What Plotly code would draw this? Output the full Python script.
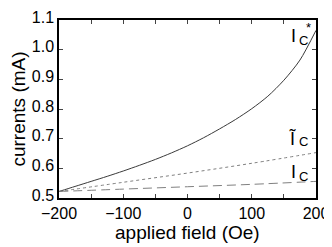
import plotly.graph_objects as go

field = [-200, -175, -150, -125, -100, -75, -50, -25, 0, 25, 50, 75, 100, 125, 150, 175, 200]
ic_star = [0.522, 0.539, 0.556, 0.573, 0.591, 0.610, 0.630, 0.652, 0.676, 0.703,
           0.733, 0.765, 0.801, 0.843, 0.897, 0.965, 1.065]
field2 = [-200, -100, 0, 100, 200]
ic_tilde = [0.522, 0.553, 0.584, 0.617, 0.653]
ic = [0.522, 0.530, 0.538, 0.546, 0.556]

fig = go.Figure()
fig.add_trace(go.Scatter(x=field, y=ic_star, mode="lines",
                         line=dict(color="#3a3a3a", width=1, shape="spline", smoothing=0.8)))
fig.add_trace(go.Scatter(x=field2, y=ic_tilde, mode="lines",
                         line=dict(color="#808080", width=1, dash="3px,3px", shape="spline")))
fig.add_trace(go.Scatter(x=field2, y=ic, mode="lines",
                         line=dict(color="#808080", width=1, dash="9px,5px", shape="spline")))

font = "Liberation Sans, Arial, sans-serif"
# page body has an 8px margin, so the figure is sized to fill the rest of the window
fig.update_layout(
    width=324, height=239,
    margin=dict(l=51, r=16, t=1, b=49),
    plot_bgcolor="white", paper_bgcolor="white",
    showlegend=False,
    font=dict(family=font, size=16, color="black"),
)
fig.update_xaxes(range=[-200, 200], dtick=100, ticks="inside", ticklen=4, tickwidth=1,
                 minor=dict(dtick=50, ticks="inside", ticklen=4, tickwidth=1),
                 showline=True, linecolor="black", linewidth=1.5, mirror="ticks",
                 showgrid=False, zeroline=False, ticklabeloverflow="allow",
                 tickfont=dict(size=16))
fig.update_yaxes(range=[0.5, 1.1], dtick=0.1, tickformat=".1f", ticks="inside", ticklen=4, tickwidth=1,
                 showline=True, linecolor="black", linewidth=1.5, mirror="ticks",
                 showgrid=False, zeroline=False, ticklabelshift=-3, ticklabeloverflow="allow",
                 title=dict(text="currents (mA)", font=dict(size=19), standoff=5),
                 tickfont=dict(size=16))

fig.add_annotation(xref="paper", yref="paper", x=0.5, y=-0.195, text="applied field (Oe)",
                   showarrow=False, xanchor="center", yanchor="middle",
                   font=dict(size=19, family=font))

# curve labels: (text, x, y, size, xanchor)
labels = [
    ("I", 170.6, 1.046, 18, "right"), ("C", 171.4, 1.032, 13, "left"), ("*", 183.6, 1.074, 13, "left"),
    ("Ĩ", 170.6, 0.700, 18, "right"), ("C", 171.4, 0.689, 13, "left"),
    ("I", 170.6, 0.588, 18, "right"), ("C", 171.4, 0.573, 13, "left"),
]
for t, x, y, s, xa in labels:
    fig.add_annotation(x=x, y=y, text=t, showarrow=False, xanchor=xa, yanchor="middle",
                       borderpad=0, font=dict(size=s, family=font))

fig.write_html("out.html")
